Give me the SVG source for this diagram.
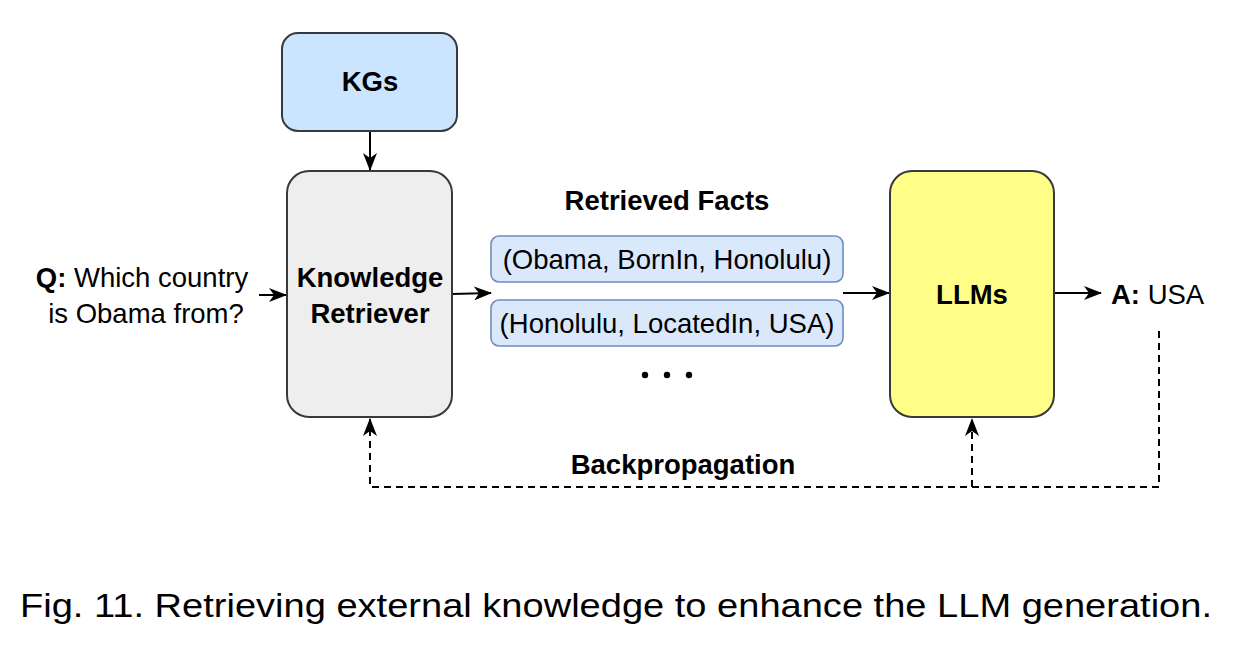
<svg xmlns="http://www.w3.org/2000/svg" width="1252" height="660" viewBox="0 0 1252 660">
<style>
.t{font-family:"Liberation Sans",Arial,Helvetica,sans-serif;font-size:27.5px;fill:#000}
.b{font-weight:bold}
.c{text-anchor:middle}
.ln{fill:none;stroke:#000;stroke-width:2}
.dash{stroke-dasharray:7 5}
.node{stroke:#36393d;stroke-width:2}
.fact{fill:#dae8fc;stroke:#6c8ebf;stroke-width:1.6}
</style>
<defs>
<marker id="ah" markerWidth="18" markerHeight="14" refX="17" refY="7" orient="auto" markerUnits="userSpaceOnUse">
<path d="M0,0 L18,7 L0,14 L5,7 Z" fill="#000"/>
</marker>
</defs>
<rect width="1252" height="660" fill="#fff"/>
<g id="connectors">
<path class="ln" d="M370,131 L370,170" marker-end="url(#ah)"/>
<path class="ln" d="M259,295 L286,295" marker-end="url(#ah)"/>
<path class="ln" d="M452,294 L491,293" marker-end="url(#ah)"/>
<path class="ln" d="M843,293 L889,293" marker-end="url(#ah)"/>
<path class="ln" d="M1054,293 L1101,293" marker-end="url(#ah)"/>
<path class="ln dash" d="M1159,331 L1159,487 L370,487 L370,419" marker-end="url(#ah)"/>
<path class="ln dash" d="M972,487 L972,419" marker-end="url(#ah)"/>
</g>
<g id="kgs">
<rect class="node" x="282" y="33" width="175" height="98" rx="16" fill="#cce5ff"/>
<text class="t b c" x="370" y="91">KGs</text>
</g>
<g id="retriever">
<rect class="node" x="287" y="171" width="165" height="246" rx="22" fill="#eeeeee"/>
<text class="t b c" x="370" y="287">Knowledge</text>
<text class="t b c" x="370" y="323">Retriever</text>
</g>
<g id="question">
<text class="t c" x="142" y="287"><tspan class="b">Q:</tspan> Which country</text>
<text class="t c" x="146" y="323">is Obama from?</text>
</g>
<g id="facts">
<text class="t b c" x="667" y="210">Retrieved Facts</text>
<rect class="fact" x="491" y="236" width="352" height="46" rx="8"/>
<text class="t c" x="667" y="269">(Obama, BornIn, Honolulu)</text>
<rect class="fact" x="491" y="300" width="352" height="46" rx="8"/>
<text class="t c" x="667" y="333">(Honolulu, LocatedIn, USA)</text>
<circle cx="645" cy="375" r="3.2" fill="#000"/>
<circle cx="667" cy="375" r="3.2" fill="#000"/>
<circle cx="689" cy="375" r="3.2" fill="#000"/>
</g>
<g id="llms">
<rect class="node" x="890" y="171" width="164" height="246" rx="22" fill="#ffff88"/>
<text class="t b c" x="972" y="304">LLMs</text>
</g>
<g id="answer">
<text class="t" x="1111" y="304"><tspan class="b">A:</tspan> USA</text>
</g>
<g id="backprop-label">
<text class="t b c" x="683" y="474">Backpropagation</text>
</g>
<text class="t" x="20" y="617" style="font-size:34px" textLength="1192" lengthAdjust="spacingAndGlyphs">Fig. 11. Retrieving external knowledge to enhance the LLM generation.</text>
</svg>
